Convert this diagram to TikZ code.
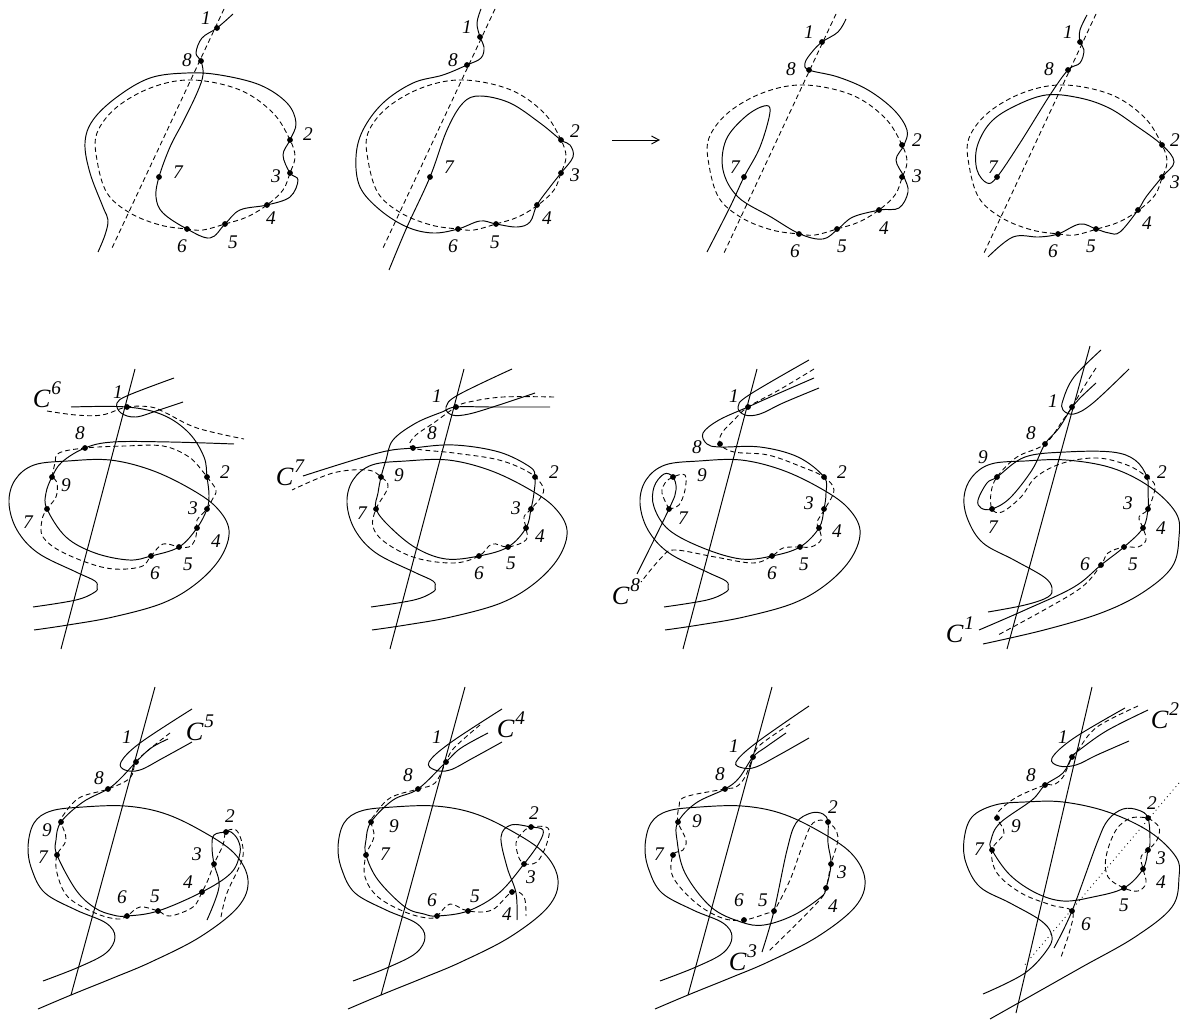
\documentclass[tikz,border=0pt]{standalone}
\usepackage{fontspec}
\setmainfont{Liberation Serif}
\usepackage{tikz}
\usetikzlibrary{arrows.meta}
\newcommand{\sol}[1]{\draw[curve] plot[smooth,tension=0.6] coordinates {#1};}
\newcommand{\das}[1]{\draw[dashcurve] plot[smooth,tension=0.6] coordinates {#1};}
\newcommand{\pts}[1]{\foreach \t/\x/\y/\u/\v in {#1} {\node[dot] (d\t) at (\x,\y) {}; \node[lab] (n\t) at (\u,\v) {\t};}}
\newcommand{\Csup}[1]{C\kern0.6pt\raisebox{1.05ex}{\fontsize{11}{12}\selectfont #1}}
\newcommand{\baseoval}[1]{\begin{scope}[shift={(#1)}]
\draw[dashcurve] plot[smooth cycle,tension=0.6] coordinates {(290,140) (273,113) (240,90) (193,80) (153,87) (117,107) (97,133) (97,160) (107,193) (130,213) (160,225) (187,229) (203,230) (225,224) (247,217) (267,205) (283,190) (290,173) (295,157)};
\draw[dashcurve] (224,9) -- (112,248);
\end{scope}}
\newcommand{\midconic}[1]{\begin{scope}[shift={(#1)}]
\sol{(33,607) (76,600) (95,592) (97,587) (95,581) (76,572) (38,553) (17,530) (9,503) (15,480) (34,465) (68,461) (110,460) (151,470) (189,488) (216,507) (229,530) (221,557) (197,583) (163,603) (113,617) (68,625) (34,630)}
\end{scope}}
\newcommand{\lowconic}[1]{\begin{scope}[shift={(#1)}]
\sol{(43,981) (79,967) (106,953) (115,937) (106,923) (76,910) (45,893) (32,870) (28,847) (34,823) (51,811) (83,807) (125,806) (163,813) (200,830) (234,853) (248,880) (238,907) (200,937) (151,962) (113,978) (71,995) (38,1009)}
\end{scope}}
\begin{document}
\begin{tikzpicture}[
  x=0.02cm, y=-0.02cm,
  curve/.style={line width=0.55pt},
  dashcurve/.style={line width=0.5pt, dash pattern=on 2.8pt off 1.8pt},
  dot/.style={circle, fill, inner sep=0pt, minimum size=0.115cm},
  lab/.style={inner sep=0pt, font=\itshape\fontsize{11}{13}\selectfont},
  curvename/.style={inner sep=0pt, font=\itshape\fontsize{15}{16}\selectfont}
]
\useasboundingbox (0,0) rectangle (1180,1023);

\begin{scope}[name prefix=a-]
\baseoval{0,0}
\sol{(233,14) (217,28) (202,38) (196,53) (201,61) (203,75) (197,93) (183,122) (170,147) (159,177) (156,197) (163,213) (187,229) (210,238) (225,224) (240,210) (267,205) (290,197) (298,180) (290,173) (283,155) (290,140) (296,123) (287,103) (260,85) (220,75) (187,73) (150,78) (117,97) (93,120) (85,143) (90,173) (103,207) (108,220) (105,235) (98,252)}
\pts{1/217/28/206/18, 8/201/61/187/60, 2/290/140/308/134, 3/290/173/276/176, 4/267/205/271/218, 5/225/224/233/242, 6/187/229/182/246, 7/159/177/178/172}
\end{scope}

\begin{scope}[name prefix=b-]
\baseoval{271,0}
\sol{(481,9) (477,23) (480,37) (484,47) (481,58) (467,65) (443,75) (413,83) (383,103) (363,130) (356,157) (360,187) (380,210) (407,227) (433,233) (458,229) (480,221) (496,224) (517,227) (530,222) (537,205) (550,187) (561,173) (573,157) (570,145) (561,140) (540,123) (510,103) (480,96) (463,103) (447,130) (430,177) (407,227) (389,270)}
\pts{1/480/37/467/27, 8/467/65/453/60, 2/561/140/575/131, 3/561/173/575/175, 4/537/205/547/218, 5/496/224/495/242, 6/458/229/453/246, 7/430/177/449/167}
\end{scope}

\draw[curve, -{Straight Barb[length=1.5mm,width=1.6mm]}] (612,140) -- (660,140);

\begin{scope}[name prefix=c-]
\baseoval{612,5}
\sol{(846,19) (838,32) (822,42) (812,52) (805,63) (809,70) (838,77) (868,90) (894,110) (907,130) (904,145) (896,160) (904,177) (908,192) (899,208) (880,210) (853,217) (838,229) (823,239) (800,234) (771,217) (738,197) (723,170) (726,140) (745,117) (764,106) (770,112) (760,147) (744,177) (730,207) (707,252)}
\pts{1/822/42/809/32, 8/809/70/791/69, 2/902/145/917/140, 3/902/177/917/176, 4/879/210/884/228, 5/837/229/842/246, 6/799/234/795/251, 7/744/177/735/167}
\end{scope}

\begin{scope}[name prefix=d-]
\baseoval{872,5}
\sol{(1087,15) (1080,30) (1080,42) (1084,50) (1080,63) (1068,70) (1050,95) (1020,143) (997,177) (987,183) (977,170) (977,147) (990,123) (1013,107) (1046,95) (1080,98) (1109,108) (1135,125) (1162,145) (1174,162) (1162,177) (1146,197) (1138,210) (1120,232) (1109,233) (1096,229) (1080,224) (1058,234) (1039,237) (1013,237) (988,257)}
\pts{1/1080/42/1068/32, 8/1068/70/1049/69, 2/1162/145/1175/140, 3/1162/177/1175/182, 4/1138/210/1147/223, 5/1096/229/1091/246, 6/1058/234/1053/251, 7/997/177/993/167}
\end{scope}

\begin{scope}[name prefix=e-]
\midconic{0,0}
\draw[curve] (135,369) -- (61,649);
\sol{(174,378) (129,395) (117,403) (121,413) (136,417) (159,410) (183,402)}
\sol{(71,407) (127,407) (163,415) (189,433) (204,457) (207,477) (209,495) (207,509) (197,528) (179,547) (151,556) (129,560) (95,553) (66,537) (47,509) (46,493) (52,477) (62,462) (85,448) (113,442) (170,442) (234,444)}
\das{(47,411) (76,415) (102,415) (127,407) (151,407) (166,413) (197,428) (244,439)}
\das{(52,477) (55,463) (59,453) (85,448) (125,446) (163,446) (189,457) (204,473) (207,477) (216,490) (212,500) (207,509) (197,520) (197,528) (195,540) (189,547) (179,547) (163,544) (151,556) (140,567) (106,568) (64,553) (43,537) (42,520) (47,509) (56,497) (57,483) (52,477)}
\pts{1/127/407/118/392, 8/85/448/80/433, 9/52/477/66/485, 2/207/477/225/472, 3/207/509/193/508, 4/197/528/216/541, 5/179/547/188/564, 6/151/556/155/573, 7/47/509/28/522}
\node[curvename] (c6) at (47,395) {\Csup{6}};
\end{scope}

\begin{scope}[name prefix=f-]
\midconic{338,0}
\draw[curve] (464,369) -- (390,649);
\sol{(512,369) (458,395) (446,407) (452,415) (469,414) (499,405) (535,393)}
\sol{(550,407) (492,407) (456,407) (442,412) (416,423) (393,440) (386,460) (381,477) (378,493) (376,509) (390,527) (416,548) (446,559) (479,556) (508,547) (526,528) (531,509) (534,493) (535,477) (530,467) (499,452) (454,445) (413,448) (378,453) (303,476)}
\das{(554,397) (503,397) (469,402) (456,407) (435,422) (414,437) (413,448) (454,453) (499,460) (530,473) (543,487) (541,497) (531,509) (524,517) (526,528) (526,540) (508,547) (492,544) (479,556) (454,563) (416,558) (386,543) (373,527) (376,509) (388,487) (381,477) (367,470) (333,473) (292,490)}
\pts{1/456/407/437/396, 8/413/448/432/433, 9/381/477/399/475, 2/535/477/554/472, 3/531/509/516/508, 4/526/528/540/536, 5/508/547/511/563, 6/479/556/479/573, 7/376/509/362/513}
\node[curvename] (c7) at (290,473) {\Csup{7}};
\end{scope}

\begin{scope}[name prefix=g-]
\midconic{631,0}
\draw[curve] (757,369) -- (683,649);
\sol{(809,360) (749,395) (738,407) (745,415) (760,414) (783,403) (819,388)}
\sol{(814,378) (768,398) (748,407) (719,420) (703,433) (707,444) (720,447) (760,447) (798,457) (824,477) (826,493) (824,509) (819,528) (800,547) (772,556) (741,559) (703,548) (669,530) (654,507) (654,487) (664,474) (673,477) (676,490) (669,509) (637,574)}
\das{(814,369) (779,390) (748,407) (734,420) (722,433) (720,444) (734,452) (768,455) (802,467) (824,477) (834,490) (826,507) (817,522) (819,528) (821,540) (811,547) (800,547) (783,548) (772,556) (753,563) (715,557) (675,550) (662,557) (641,582)}
\das{(669,509) (662,493) (665,483) (673,477) (685,475) (685,490) (679,505) (669,509)}
\pts{1/748/407/734/396, 8/720/444/697/447, 9/673/477/702/475, 2/824/477/842/472, 3/824/509/809/503, 4/819/528/837/531, 5/800/547/804/564, 6/772/556/772/573, 7/669/509/683/518}
\node[curvename] (c8) at (626,592) {\Csup{8}};
\end{scope}

\begin{scope}[name prefix=h-]
\sol{(988,612) (1025,605) (1048,597) (1052,588) (1044,577) (1014,560) (983,543) (968,520) (964,497) (972,477) (991,464) (1025,461) (1066,460) (1112,468) (1150,487) (1176,513) (1179,537) (1172,567) (1142,593) (1101,613) (1044,630) (983,644)}
\draw[curve] (1090,346) -- (1007,649);
\sol{(1101,350) (1074,377) (1063,400) (1063,410) (1074,414) (1093,403) (1129,369)}
\sol{(1096,383) (1080,398) (1072,407) (1059,428) (1045,444) (1032,470) (1010,498) (992,509) (981,508) (978,500) (987,483) (997,477) (1025,457) (1066,452) (1112,452) (1135,460) (1147,477) (1148,493) (1148,509) (1143,528) (1124,547) (1101,565) (1074,587) (1025,610) (979,630)}
\das{(1096,368) (1082,390) (1072,407) (1063,420) (1045,444) (1017,457) (997,477) (991,493) (992,509) (1002,512) (1021,497) (1036,477) (1063,463) (1097,458) (1127,465) (1147,477) (1155,487) (1148,509) (1139,517) (1143,528) (1146,540) (1138,547) (1124,547) (1108,553) (1101,565) (1082,587) (1044,610) (998,635)}
\pts{1/1072/407/1053/401, 8/1045/444/1031/433, 9/997/477/983/457, 2/1147/477/1162/472, 3/1148/509/1128/503, 4/1143/528/1161/528, 5/1124/547/1133/564, 6/1101/565/1085/564, 7/992/509/993/527}
\node[curvename] (c1) at (960,630) {\Csup{1}};
\end{scope}

\begin{scope}[name prefix=i-]
\lowconic{0,0}
\draw[curve] (155,687) -- (71,995);
\sol{(192,709) (140,743) (121,762) (125,770) (140,770) (163,758) (192,742)}
\sol{(168,739) (151,748) (136,762) (121,778) (108,789) (83,802) (61,822) (56,840) (57,855) (76,890) (95,908) (113,915) (127,916) (158,911) (202,892) (231,873) (240,853) (238,840) (231,832) (226,832) (214,835) (212,847) (214,864) (219,887) (207,920)}
\das{(170,733) (151,748) (136,762) (130,778) (108,789) (79,798) (62,817) (61,822) (66,840) (57,855) (57,873) (68,897) (95,913) (117,919) (127,916) (140,907) (158,911) (170,916) (193,907) (202,892) (208,880) (214,864) (223,845) (226,832) (236,830) (242,843) (242,860) (227,893) (221,917)}
\pts{1/136/762/127/737, 8/108/789/99/778, 9/61/822/47/830, 7/57/855/43/857, 6/127/916/122/897, 5/158/911/155/896, 4/202/892/188/882, 3/214/864/197/854, 2/226/832/230/816}
\node[curvename] (c5) at (200,728) {\Csup{5}};
\end{scope}

\begin{scope}[name prefix=j-]
\lowconic{310,0}
\draw[curve] (465,687) -- (381,995);
\sol{(502,709) (450,743) (429,762) (435,770) (450,770) (473,758) (502,742)}
\sol{(488,733) (461,748) (446,762) (418,789) (393,800) (371,822) (366,840) (366,855) (378,880) (405,907) (424,914) (437,916) (468,911) (499,893) (524,864) (539,843) (543,830) (531,827) (511,825) (501,837) (507,867) (516,893) (517,920)}
\das{(480,725) (454,748) (446,762) (435,783) (418,789) (390,798) (373,817) (371,822) (374,837) (366,855) (365,877) (378,897) (405,912) (427,918) (437,916) (450,904) (468,911) (492,910) (512,892) (524,897) (526,916)}
\das{(524,864) (537,862) (547,843) (548,828) (531,827) (522,833) (516,843) (519,858) (524,864)}
\pts{1/446/762/437/737, 8/418/789/408/775, 9/371/822/394/826, 7/366/855/385/854, 6/437/916/432/900, 5/468/911/475/896, 4/512/892/507/914, 3/524/864/531/877, 2/531/827/534/813}
\node[curvename] (c4) at (511,725) {\Csup{4}};
\end{scope}

\begin{scope}[name prefix=k-]
\lowconic{617,0}
\draw[curve] (772,687) -- (688,995);
\sol{(809,706) (756,743) (736,762) (743,768) (756,767) (779,755) (809,738)}
\sol{(786,733) (766,747) (753,757) (739,778) (725,789) (696,803) (678,822) (677,840) (685,873) (711,907) (741,922) (764,925) (794,915) (821,897) (826,888) (831,864) (828,843) (828,822) (823,814) (811,813) (796,823) (787,850) (774,911) (762,952)}
\das{(790,724) (760,745) (753,757) (745,777) (736,787) (725,789) (685,797) (679,807) (678,822) (686,840) (683,850) (673,855) (673,877) (696,903) (722,918) (744,920) (768,913) (774,911) (790,880) (802,847) (813,823) (828,822) (838,837) (831,864) (826,888) (817,903) (768,952)}
\pts{1/753/757/734/746, 8/725/789/720/774, 9/678/822/697/821, 7/673/855/659/854, 6/744/920/739/900, 5/774/911/763/900, 4/826/888/833/906, 3/831/864/842/872, 2/828/822/833/807}
\node[curvename] (c3) at (743,958) {\Csup{3}};
\end{scope}

\begin{scope}[name prefix=l-]
\sol{(983,994) (1025,973) (1049,947) (1051,933) (1040,920) (1010,903) (980,887) (966,863) (964,840) (972,817) (995,805) (1025,802) (1063,802) (1108,812) (1150,832) (1176,857) (1179,877) (1172,907) (1135,937) (1082,967) (1036,993) (990,1019)}
\draw[curve] (1092,687) -- (1016,1013);
\draw[line width=0.5pt, dotted] (1179,783) -- (1023,967);
\sol{(1125,708) (1074,738) (1052,758) (1059,766) (1076,765) (1097,755) (1129,741)}
\sol{(1148,710) (1108,730) (1082,748) (1072,757) (1063,773) (1045,785) (1032,800) (1000,823) (991,840) (992,850) (1010,875) (1036,893) (1063,901) (1093,897) (1124,888) (1143,869) (1148,850) (1150,843) (1148,818) (1138,810) (1123,809) (1108,820) (1097,843) (1072,911) (1054,948)}
\das{(1138,706) (1097,727) (1078,750) (1072,757) (1063,777) (1053,785) (1045,785) (1017,797) (1000,810) (997,818) (1004,833) (992,850) (997,873) (1021,893) (1051,905) (1072,911) (1070,930) (1061,957)}
\das{(1148,818) (1159,827) (1157,840) (1148,850) (1141,857) (1143,869) (1146,883) (1138,891) (1124,888) (1108,877) (1106,857) (1116,830) (1131,818) (1148,818)}
\pts{1/1072/757/1063/737, 8/1045/785/1031/775, 9/997/818/1016/826, 7/992/850/979/849, 6/1072/911/1086/924, 5/1124/888/1124/905, 4/1143/869/1161/882, 3/1148/850/1161/858, 2/1148/818/1152/803}
\node[curvename] (c2) at (1165,716) {\Csup{2}};
\end{scope}
\end{tikzpicture}
\end{document}
